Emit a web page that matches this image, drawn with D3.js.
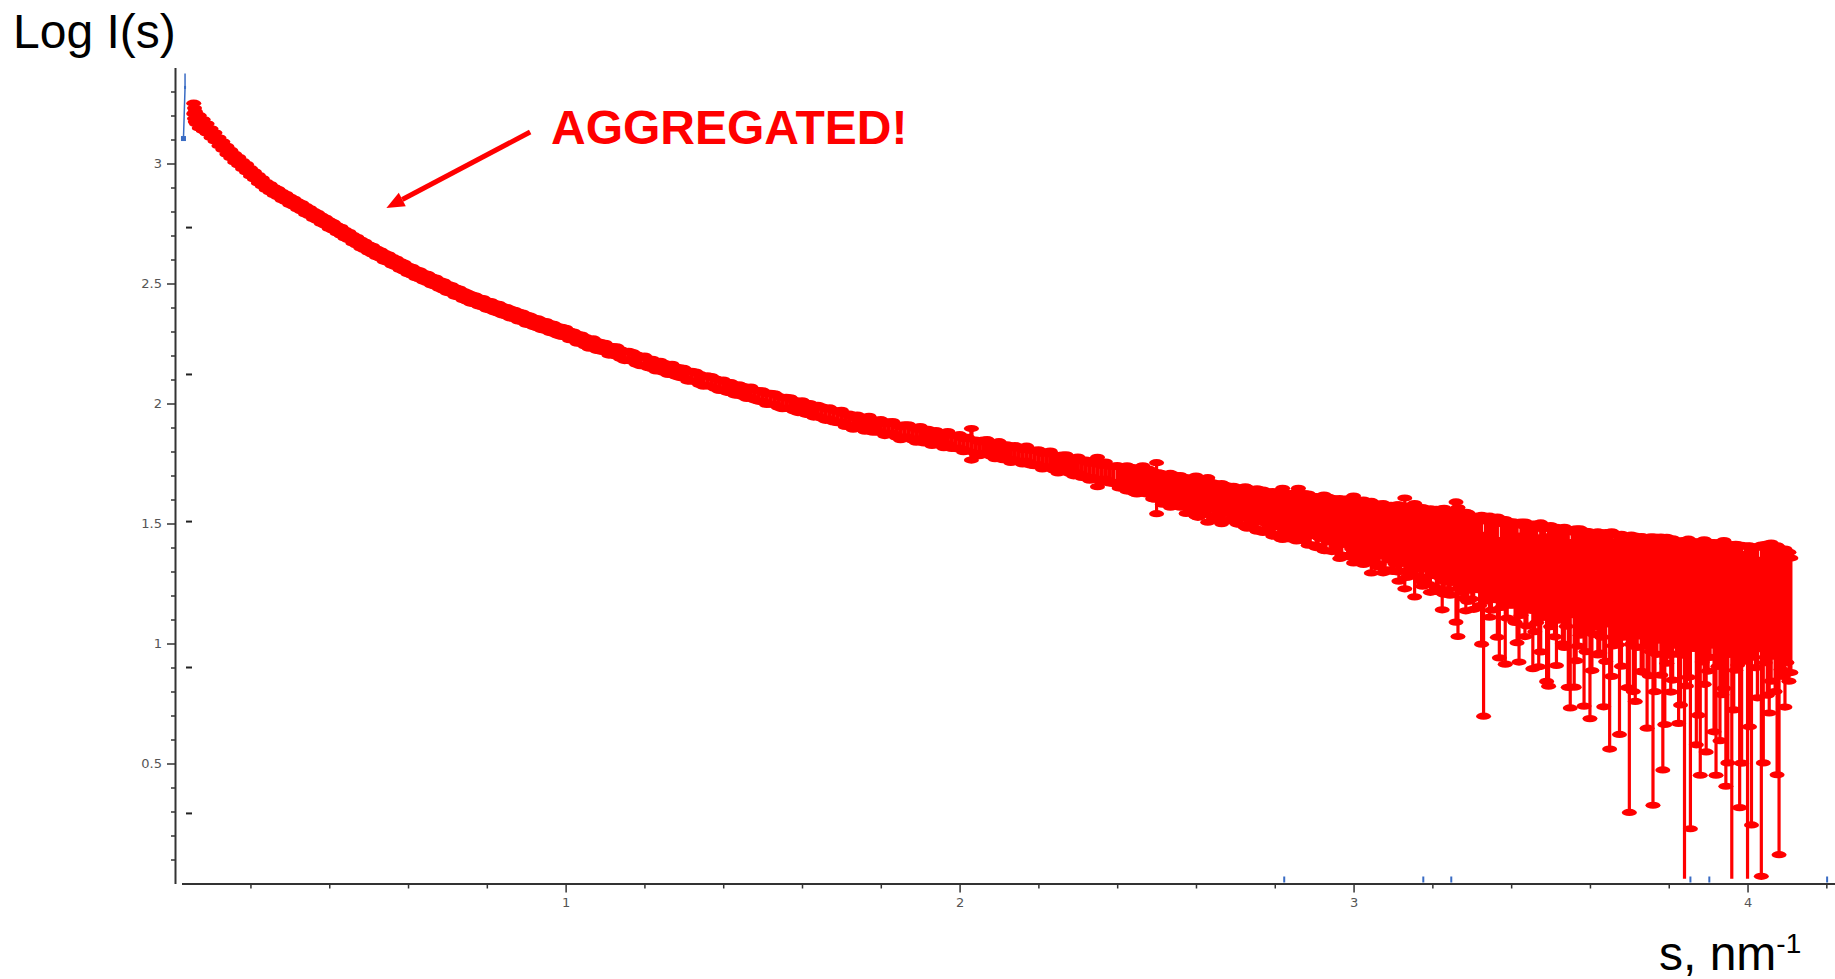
<!DOCTYPE html>
<html>
<head>
<meta charset="utf-8">
<script src="https://cdn.jsdelivr.net/npm/d3@7"></script>
<style>
  html, body { margin: 0; padding: 0; background: #ffffff; }
  svg { display: block; }
</style>
</head>
<body>
<svg id="chart" width="1835" height="979"></svg>
<script>
// ---- Scattering curve, s < 1 nm^-1 ----
const sLow = [
  0.056,0.058,0.060,0.063,
  0.07,0.08,0.09,0.10,0.11,0.12,0.13,0.14,0.15,0.16,
  0.17,0.18,0.19,0.20,0.21,0.22,0.23,0.24,0.25,0.26,
  0.27,0.28,0.29,0.30,0.31,0.32,0.33,0.34,0.35,0.36,
  0.37,0.38,0.39,0.40,0.41,0.42,0.43,0.44,0.45,0.46,
  0.47,0.48,0.49,0.50,0.51,0.52,0.53,0.54,0.55,0.56,
  0.57,0.58,0.59,0.60,0.61,0.62,0.63,0.64,0.65,0.66,
  0.67,0.68,0.69,0.70,0.71,0.72,0.73,0.74,0.75,0.76,
  0.77,0.78,0.79,0.80,0.81,0.82,0.83,0.84,0.85,0.86,
  0.87,0.88,0.89,0.90,0.91,0.92,0.93,0.94,0.95,0.96,
  0.97,0.98,0.99
];
const logILow = [
  3.230,3.210,3.196,3.186,
  3.175,3.161,3.146,3.127,3.111,3.091,3.075,3.056,3.040,3.023,
  3.010,2.994,2.981,2.964,2.951,2.935,2.922,2.907,2.897,2.885,
  2.877,2.865,2.857,2.845,2.837,2.826,2.818,2.806,2.798,2.786,
  2.778,2.766,2.758,2.746,2.738,2.726,2.718,2.706,2.698,2.685,
  2.677,2.665,2.657,2.646,2.639,2.628,2.621,2.610,2.604,2.593,
  2.586,2.575,2.568,2.557,2.551,2.541,2.536,2.526,2.521,2.511,
  2.506,2.496,2.490,2.480,2.475,2.465,2.460,2.450,2.444,2.436,
  2.432,2.424,2.420,2.411,2.407,2.399,2.395,2.387,2.383,2.375,
  2.371,2.363,2.359,2.350,2.346,2.338,2.334,2.326,2.323,2.315,
  2.311,2.303,2.299
];
// relative error sigma / I
const relErrLow = [
  0.050,0.050,0.050,0.045,
  0.060,0.052,0.045,0.041,0.039,0.038,0.037,0.038,0.036,0.037,
  0.037,0.036,0.037,0.036,0.035,0.036,0.035,0.035,0.036,0.034,
  0.035,0.035,0.034,0.036,0.034,0.035,0.035,0.036,0.034,0.036,
  0.035,0.036,0.035,0.037,0.036,0.035,0.037,0.036,0.036,0.037,
  0.036,0.037,0.037,0.036,0.038,0.037,0.036,0.038,0.037,0.038,
  0.037,0.038,0.039,0.037,0.038,0.039,0.038,0.037,0.039,0.038,
  0.039,0.038,0.040,0.039,0.038,0.040,0.039,0.040,0.039,0.041,
  0.040,0.039,0.041,0.040,0.041,0.040,0.042,0.041,0.040,0.042,
  0.041,0.042,0.041,0.043,0.042,0.041,0.043,0.042,0.043,0.042,
  0.043,0.042,0.044
];

// ---- Scattering curve, 1 <= s < 2.4 nm^-1 ----
const sMid = [
  1.00,1.01,1.02,1.03,1.04,1.05,1.06,1.07,1.08,1.09,
  1.10,1.11,1.12,1.13,1.14,1.15,1.16,1.17,1.18,1.19,
  1.20,1.21,1.22,1.23,1.24,1.25,1.26,1.27,1.28,1.29,
  1.30,1.31,1.32,1.33,1.34,1.35,1.36,1.37,1.38,1.39,
  1.40,1.41,1.42,1.43,1.44,1.45,1.46,1.47,1.48,1.49,
  1.50,1.51,1.52,1.53,1.54,1.55,1.56,1.57,1.58,1.59,
  1.60,1.61,1.62,1.63,1.64,1.65,1.66,1.67,1.68,1.69,
  1.70,1.71,1.72,1.73,1.74,1.75,1.76,1.77,1.78,1.79,
  1.80,1.81,1.82,1.83,1.84,1.85,1.86,1.87,1.88,1.89,
  1.90,1.91,1.92,1.93,1.94,1.95,1.96,1.97,1.98,1.99,
  2.00,2.01,2.02,2.03,2.04,2.05,2.06,2.07,2.08,2.09,
  2.10,2.11,2.12,2.13,2.14,2.15,2.16,2.17,2.18,2.19,
  2.20,2.21,2.22,2.23,2.24,2.25,2.26,2.27,2.28,2.29,
  2.30,2.31,2.32,2.33,2.34,2.35,2.36,2.37,2.38,2.39
];
const logIMid = [
  2.296,2.284,2.281,2.270,2.268,2.258,2.249,2.252,2.240,2.236,
  2.233,2.221,2.220,2.217,2.206,2.198,2.199,2.194,2.184,2.177,
  2.179,2.168,2.165,2.155,2.156,2.149,2.141,2.144,2.133,2.129,
  2.127,2.114,2.114,2.112,2.101,2.093,2.095,2.092,2.083,2.076,
  2.078,2.068,2.066,2.056,2.057,2.051,2.043,2.047,2.036,2.032,
  2.031,2.019,2.020,2.019,2.008,2.001,2.004,2.001,1.992,1.986,
  1.989,1.979,1.977,1.968,1.970,1.963,1.955,1.959,1.948,1.944,
  1.948,1.930,1.933,1.918,1.927,1.920,1.910,1.923,1.907,1.906,
  1.908,1.892,1.898,1.901,1.886,1.877,1.887,1.886,1.875,1.867,
  1.879,1.863,1.866,1.852,1.861,1.854,1.845,1.858,1.841,1.840,
  1.843,1.827,1.832,1.835,1.821,1.812,1.821,1.821,1.810,1.801,
  1.813,1.797,1.800,1.786,1.796,1.789,1.779,1.792,1.775,1.774,
  1.777,1.761,1.767,1.770,1.755,1.745,1.754,1.754,1.742,1.734,
  1.745,1.728,1.732,1.717,1.726,1.719,1.709,1.722,1.705,1.704
];
const relErrMid = [
  0.040,0.041,0.039,0.042,0.040,0.041,0.042,0.040,0.043,0.041,
  0.042,0.043,0.041,0.044,0.042,0.043,0.044,0.042,0.045,0.043,
  0.044,0.043,0.045,0.044,0.046,0.044,0.045,0.046,0.044,0.047,
  0.045,0.046,0.047,0.045,0.048,0.046,0.047,0.048,0.046,0.049,
  0.047,0.048,0.049,0.047,0.050,0.048,0.049,0.050,0.048,0.051,
  0.050,0.051,0.052,0.050,0.053,0.051,0.052,0.054,0.051,0.053,
  0.052,0.054,0.053,0.055,0.052,0.054,0.056,0.053,0.055,0.054,
  0.055,0.057,0.054,0.056,0.058,0.055,0.057,0.056,0.059,0.056,
  0.058,0.057,0.060,0.056,0.059,0.061,0.058,0.060,0.059,0.062,
  0.059,0.061,0.063,0.060,0.062,0.061,0.064,0.060,0.063,0.062,
  0.064,0.062,0.065,0.150,0.063,0.066,0.064,0.067,0.065,0.068,
  0.066,0.069,0.067,0.070,0.068,0.071,0.069,0.072,0.070,0.073,
  0.071,0.074,0.072,0.075,0.073,0.076,0.074,0.077,0.075,0.078,
  0.076,0.079,0.077,0.080,0.078,0.140,0.079,0.082,0.080,0.083
];

// ---- Noisy tail s >= 2.4 nm^-1, points on the 0.01 grid ----
const sHigh = [
  2.40,2.41,2.42,2.43,2.44,2.45,2.46,2.47,2.48,2.49,
  2.50,2.51,2.52,2.53,2.54,2.55,2.56,2.57,2.58,2.59,
  2.60,2.61,2.62,2.63,2.64,2.65,2.66,2.67,2.68,2.69,
  2.70,2.71,2.72,2.73,2.74,2.75,2.76,2.77,2.78,2.79,
  2.80,2.81,2.82,2.83,2.84,2.85,2.86,2.87,2.88,2.89,
  2.90,2.91,2.92,2.93,2.94,2.95,2.96,2.97,2.98,2.99,
  3.00,3.01,3.02,3.03,3.04,3.05,3.06,3.07,3.08,3.09,
  3.10,3.11,3.12,3.13,3.14,3.15,3.16,3.17,3.18,3.19,
  3.20,3.21,3.22,3.23,3.24,3.25,3.26,3.27,3.28,3.29,
  3.30,3.31,3.32,3.33,3.34,3.35,3.36,3.37,3.38,3.39,
  3.40,3.41,3.42,3.43,3.44,3.45,3.46,3.47,3.48,3.49,
  3.50,3.51,3.52,3.53,3.54,3.55,3.56,3.57,3.58,3.59,
  3.60,3.61,3.62,3.63,3.64,3.65,3.66,3.67,3.68,3.69,
  3.70,3.71,3.72,3.73,3.74,3.75,3.76,3.77,3.78,3.79,
  3.80,3.81,3.82,3.83,3.84,3.85,3.86,3.87,3.88,3.89,
  3.90,3.91,3.92,3.93,3.94,3.95,3.96,3.97,3.98,3.99,
  4.00,4.01,4.02,4.03,4.04,4.05,4.06,4.07,4.08,4.09,
  4.10,4.11
];
const logIHigh = [
  1.708,1.694,1.703,1.686,1.696,1.679,1.688,1.675,1.681,1.664,
  1.660,1.668,1.650,1.662,1.644,1.653,1.639,1.648,1.628,1.636,
  1.622,1.632,1.610,1.608,1.618,1.598,1.611,1.593,1.603,1.586,
  1.594,1.578,1.588,1.572,1.583,1.566,1.577,1.560,1.569,1.553,
  1.564,1.548,1.553,1.549,1.538,1.548,1.560,1.532,1.542,1.526,
  1.535,1.519,1.530,1.512,1.523,1.507,1.518,1.499,1.510,1.493,
  1.497,1.488,1.498,1.479,1.483,1.476,1.469,1.480,1.462,1.473,
  1.455,1.460,1.449,1.457,1.442,1.453,1.443,1.435,1.446,1.427,
  1.436,1.425,1.430,1.420,1.412,1.416,1.408,1.404,1.395,1.397,
  1.386,1.398,1.380,1.220,1.381,1.368,1.370,1.250,1.365,1.350,
  1.362,1.340,1.260,1.351,1.333,1.346,1.325,1.250,1.331,1.240,
  1.330,1.312,1.326,1.300,1.316,1.200,1.250,1.290,1.306,1.285,
  1.210,1.298,1.280,1.294,1.272,1.180,1.250,1.279,1.262,1.260,
  1.150,1.220,1.268,1.250,1.265,1.243,1.150,1.256,1.245,1.200,
  1.252,1.235,1.248,1.200,1.120,1.236,1.240,1.180,1.150,1.228,
  1.232,1.230,1.150,1.180,1.222,1.160,1.110,1.226,1.140,1.210,
  1.100,1.130,1.218,1.200,1.160,1.205,1.220,1.198,1.120,1.200,
  1.205,1.180
];
const relErrHigh = [
  0.08,0.10,0.07,0.11,0.09,0.12,0.08,0.10,0.11,0.13,
  0.24,0.10,0.13,0.09,0.14,0.11,0.15,0.10,0.13,0.12,
  0.19,0.11,0.15,0.21,0.12,0.16,0.12,0.17,0.13,0.16,
  0.13,0.17,0.14,0.19,0.14,0.18,0.15,0.20,0.15,0.19,
  0.16,0.20,0.24,0.17,0.21,0.16,0.22,0.21,0.18,0.23,
  0.18,0.23,0.19,0.25,0.20,0.24,0.21,0.26,0.20,0.25,
  0.31,0.24,0.21,0.27,0.28,0.24,0.29,0.23,0.30,0.25,
  0.30,0.31,0.29,0.41,0.31,0.26,0.31,0.33,0.27,0.34,
  0.29,0.36,0.30,0.39,0.35,0.31,0.52,0.32,0.38,0.40,
  0.37,0.32,0.40,0.70,0.34,0.41,0.35,0.51,0.36,0.43,
  0.36,0.44,0.54,0.38,0.45,0.38,0.47,0.55,0.40,0.60,
  0.45,0.48,0.41,0.50,0.43,0.66,0.63,0.50,0.44,0.52,
  0.70,0.45,0.53,0.46,0.55,0.76,0.45,0.48,0.56,0.40,
  0.86,0.62,0.48,0.57,0.47,0.58,0.85,0.50,0.58,0.71,
  0.50,0.59,0.49,0.65,1.00,0.58,0.45,0.75,0.80,0.60,
  0.55,0.42,0.80,0.74,0.61,0.78,1.00,0.54,0.85,0.45,
  1.02,0.87,0.52,0.40,0.78,0.62,0.58,0.60,0.90,0.54,
  0.48,0.50
];

// ---- Noisy tail, intermediate points (half-step between the grid above) ----
const sHighMid = [
  2.405,2.415,2.425,2.435,2.445,2.455,2.465,2.475,2.485,2.495,
  2.505,2.515,2.525,2.535,2.545,2.555,2.565,2.575,2.585,2.595,
  2.605,2.615,2.625,2.635,2.645,2.655,2.665,2.675,2.685,2.695,
  2.705,2.715,2.725,2.735,2.745,2.755,2.765,2.775,2.785,2.795,
  2.805,2.815,2.825,2.835,2.845,2.855,2.865,2.875,2.885,2.895,
  2.905,2.915,2.925,2.935,2.945,2.955,2.965,2.975,2.985,2.995,
  3.005,3.015,3.025,3.035,3.045,3.055,3.065,3.075,3.085,3.095,
  3.105,3.115,3.125,3.135,3.145,3.155,3.165,3.175,3.185,3.195,
  3.205,3.215,3.225,3.235,3.245,3.255,3.265,3.275,3.285,3.295,
  3.305,3.315,3.325,3.335,3.345,3.355,3.365,3.375,3.385,3.395,
  3.405,3.415,3.425,3.435,3.445,3.455,3.465,3.475,3.485,3.495,
  3.505,3.515,3.525,3.535,3.545,3.555,3.565,3.575,3.585,3.595,
  3.605,3.615,3.625,3.635,3.645,3.655,3.665,3.675,3.685,3.695,
  3.705,3.715,3.725,3.735,3.745,3.755,3.765,3.775,3.785,3.795,
  3.805,3.815,3.825,3.835,3.845,3.855,3.865,3.875,3.885,3.895,
  3.905,3.915,3.925,3.935,3.945,3.955,3.965,3.975,3.985,3.995,
  4.005,4.015,4.025,4.035,4.045,4.055,4.065,4.075,4.085,4.095,
  4.105
];
const logIHighMid = [
  1.694,1.705,1.691,1.694,1.677,1.684,1.687,1.669,1.671,1.657,
  1.666,1.646,1.656,1.644,1.652,1.633,1.637,1.623,1.634,1.621,
  1.612,1.622,1.609,1.620,1.600,1.604,1.591,1.603,1.590,1.594,
  1.579,1.591,1.577,1.566,1.577,1.565,1.575,1.557,1.563,1.550,
  1.563,1.545,1.555,1.544,1.556,1.541,1.530,1.542,1.529,1.539,
  1.519,1.530,1.518,1.527,1.508,1.514,1.497,1.511,1.499,1.508,
  1.488,1.502,1.484,1.488,1.468,1.486,1.474,1.462,1.480,1.462,
  1.469,1.447,1.465,1.449,1.452,1.431,1.452,1.433,1.439,1.421,
  1.438,1.416,1.400,1.423,1.409,1.421,1.376,1.407,1.388,1.403,
  1.379,1.398,1.344,1.384,1.369,1.388,1.345,1.372,1.312,1.367,
  1.367,1.322,1.354,1.330,1.359,1.293,1.339,1.312,1.339,1.266,
  1.333,1.285,1.332,1.302,1.261,1.328,1.285,1.310,1.234,1.308,
  1.264,1.306,1.279,1.231,1.304,1.261,1.289,1.206,1.286,1.236,
  1.281,1.227,1.283,1.247,1.200,1.268,1.231,1.274,1.172,1.255,
  1.218,1.261,1.190,1.253,1.221,1.149,1.255,1.196,1.242,1.168,
  1.243,1.185,1.233,1.207,1.150,1.239,1.192,1.229,1.159,1.228,
  1.176,1.227,1.194,1.127,1.221,1.179,1.223,1.152,1.210,1.179,
  1.190
];
const relErrHighMid = [
  0.10,0.07,0.12,0.09,0.11,0.08,0.13,0.10,0.09,0.12,
  0.11,0.14,0.10,0.16,0.12,0.13,0.11,0.17,0.12,0.14,
  0.18,0.12,0.15,0.13,0.17,0.14,0.19,0.13,0.16,0.15,
  0.17,0.14,0.19,0.16,0.15,0.20,0.14,0.18,0.17,0.21,
  0.16,0.22,0.18,0.20,0.17,0.23,0.19,0.21,0.24,0.18,
  0.24,0.19,0.26,0.21,0.25,0.22,0.28,0.20,0.27,0.23,
  0.26,0.23,0.30,0.25,0.33,0.22,0.28,0.32,0.24,0.30,
  0.27,0.35,0.26,0.33,0.30,0.42,0.28,0.36,0.31,0.38,
  0.30,0.37,0.45,0.32,0.38,0.30,0.55,0.36,0.44,0.34,
  0.42,0.33,0.55,0.38,0.45,0.35,0.52,0.40,0.60,0.38,
  0.38,0.52,0.42,0.50,0.36,0.60,0.44,0.55,0.41,0.64,
  0.42,0.58,0.40,0.52,0.64,0.38,0.56,0.47,0.68,0.44,
  0.58,0.42,0.52,0.68,0.40,0.60,0.47,0.74,0.45,0.62,
  0.48,0.66,0.44,0.57,0.72,0.50,0.63,0.45,0.80,0.54,
  0.62,0.46,0.70,0.50,0.60,0.88,0.47,0.68,0.52,0.76,
  0.50,0.72,0.53,0.62,0.82,0.48,0.66,0.52,0.78,0.50,
  0.70,0.48,0.62,0.92,0.50,0.66,0.47,0.80,0.52,0.64,
  0.55
];

// ---- Second (blue) trace at the very start of the curve ----
const blueS = [0.030, 0.032, 0.034, 0.034];
const blueLogI = [3.104, 3.210, 3.317, 3.375];

// ---- Blue rug marks on the s axis ----
const rugS = [2.824, 3.177, 3.248, 3.855, 3.903, 4.202];

// ---- Short black level marks next to the Log I axis ----
const levelMarks = [2.733, 2.121, 1.508, 0.900, 0.292];

// ---- Axis ticks ----
const xMajorTicks = [1, 2, 3, 4];
const xTickLabels = ["1", "2", "3", "4"];
const xMinorTicks = [0.2,0.4,0.6,0.8,1.2,1.4,1.6,1.8,2.2,2.4,2.6,2.8,3.2,3.4,3.6,3.8,4.2];
const yMajorTicks = [0.5, 1, 1.5, 2, 2.5, 3];
const yTickLabels = ["0.5", "1", "1.5", "2", "2.5", "3"];
const yMinorTicks = [0.1,0.2,0.3,0.4,0.6,0.7,0.8,0.9,1.1,1.2,1.3,1.4,1.6,1.7,1.8,1.9,
                     2.1,2.2,2.3,2.4,2.6,2.7,2.8,2.9,3.1,3.2,3.3];

// ---- Annotation ----
const annotationText = "AGGREGATED!";
const arrowFrom = { s: 0.91, v: 3.131 };
const arrowTo = { s: 0.545, v: 2.815 };

// ======================================================================
const svg = d3.select("#chart");
const FONT = "'Liberation Sans', Arial, Helvetica, sans-serif";
const RED = "#ff0000";
const BLUE = "#3a6cc4";
const AXIS = "#333333";

const x = d3.scaleLinear().domain([0.025, 4.222]).range([181.5, 1835]);
const y = d3.scaleLinear().domain([0, 3.4]).range([883.5, 67.5]);
const axisX0 = 175;      // horizontal position of the Log I axis
const axisY0 = 883.5;    // vertical position of the s axis

// ---- axes ----
const yAxis = svg.append("g").attr("transform", `translate(${axisX0},0)`);
yAxis.call(d3.axisLeft(y).tickValues(yMajorTicks)
  .tickFormat((d, i) => yTickLabels[i]).tickSize(8).tickSizeOuter(0).tickPadding(5));
const yMinor = svg.append("g").attr("transform", `translate(${axisX0},0)`);
yMinor.call(d3.axisLeft(y).tickValues(yMinorTicks).tickFormat("").tickSize(4).tickSizeOuter(0));
yMinor.select(".domain").remove();

const xAxis = svg.append("g").attr("transform", `translate(0,${axisY0})`);
xAxis.call(d3.axisBottom(x).tickValues(xMajorTicks)
  .tickFormat((d, i) => xTickLabels[i]).tickSize(9).tickSizeOuter(0).tickPadding(5));
const xMinor = svg.append("g").attr("transform", `translate(0,${axisY0})`);
xMinor.call(d3.axisBottom(x).tickValues(xMinorTicks).tickFormat("").tickSize(5).tickSizeOuter(0));
xMinor.select(".domain").remove();

svg.selectAll(".domain").attr("stroke", AXIS).attr("stroke-width", 2);
svg.selectAll(".tick line").attr("stroke", AXIS).attr("stroke-width", 1.5);
svg.selectAll(".tick text")
  .attr("fill", "#555555")
  .attr("font-family", "'DejaVu Sans', Verdana, sans-serif")
  .attr("font-size", 13);

// ---- level marks beside the Log I axis ----
svg.append("g").selectAll("rect").data(levelMarks).join("rect")
  .attr("x", axisX0 + 11).attr("y", d => y(d) - 1)
  .attr("width", 6).attr("height", 2).attr("fill", "#222");

// ---- blue rug on the s axis ----
svg.append("g").selectAll("line").data(rugS).join("line")
  .attr("x1", d => x(d)).attr("x2", d => x(d))
  .attr("y1", axisY0 - 1).attr("y2", axisY0 - 7)
  .attr("stroke", BLUE).attr("stroke-width", 2);

// ---- scattering curve with error bars (log of I - sigma .. I + sigma) ----
function buildPoints(sArr, logArr, errArr) {
  const n = Math.min(sArr.length, logArr.length, errArr.length);
  const out = [];
  for (let i = 0; i < n; i++) {
    const c = logArr[i], r = errArr[i];
    const hi = c + Math.log10(1 + r);
    const lo = r < 1 ? c + Math.log10(1 - r) : null;
    out.push({ s: sArr[i], c, hi, lo });
  }
  return out;
}
const points = buildPoints(sLow, logILow, relErrLow)
  .concat(buildPoints(sMid, logIMid, relErrMid))
  .concat(buildPoints(sHigh, logIHigh, relErrHigh))
  .concat(buildPoints(sHighMid, logIHighMid, relErrHighMid))
  .sort((a, b) => a.s - b.s);

const floorV = 0.02;
const curve = svg.append("g");
curve.selectAll("line").data(points).join("line")
  .attr("x1", d => x(d.s)).attr("x2", d => x(d.s))
  .attr("y1", d => y(d.hi))
  .attr("y2", d => (d.lo === null || d.lo < floorV) ? y(floorV) : y(d.lo))
  .attr("stroke", RED)
  .attr("stroke-width", d => d.s < 2.4 ? 4.3 : 3.2);
const caps = [];
points.forEach(p => {
  caps.push({ s: p.s, v: p.hi });
  if (p.lo !== null && p.lo >= floorV) caps.push({ s: p.s, v: p.lo });
});
curve.selectAll("ellipse").data(caps).join("ellipse")
  .attr("cx", d => x(d.s)).attr("cy", d => y(d.v))
  .attr("rx", 7.5).attr("ry", 3.6).attr("fill", RED);

// ---- blue trace ----
const blueLine = d3.line().x(d => x(d[0])).y(d => y(d[1]));
const bluePts = blueS.map((s, i) => [s, blueLogI[i]]);
svg.append("path").attr("d", blueLine(bluePts))
  .attr("fill", "none").attr("stroke", BLUE).attr("stroke-width", 1.5);
svg.append("rect")
  .attr("x", x(bluePts[0][0]) - 2.5).attr("y", y(bluePts[0][1]) - 2.5)
  .attr("width", 5).attr("height", 5).attr("fill", BLUE);
svg.append("rect")
  .attr("x", x(bluePts[2][0]) - 1).attr("y", y(bluePts[2][1]) - 1.5)
  .attr("width", 2).attr("height", 3).attr("fill", BLUE);

// ---- axis titles ----
svg.append("text").attr("x", 13).attr("y", 48)
  .attr("font-family", FONT).attr("font-size", 48).attr("fill", "#000")
  .text("Log I(s)");
const sTitle = svg.append("text").attr("x", 1659).attr("y", 970)
  .attr("font-family", FONT).attr("font-size", 48).attr("fill", "#000");
sTitle.append("tspan").text("s, nm");
sTitle.append("tspan").attr("font-size", 28).attr("dy", -17).text("-1");

// ---- annotation arrow and label ----
const ax0 = x(arrowFrom.s), ay0 = y(arrowFrom.v);
const ax1 = x(arrowTo.s), ay1 = y(arrowTo.v);
const ang = Math.atan2(ay1 - ay0, ax1 - ax0);
const headLen = 18, headHalf = 7.5;
const bx = ax1 - headLen * Math.cos(ang), by = ay1 - headLen * Math.sin(ang);
svg.append("line")
  .attr("x1", ax0).attr("y1", ay0).attr("x2", bx).attr("y2", by)
  .attr("stroke", RED).attr("stroke-width", 5);
svg.append("polygon")
  .attr("points", [
    [ax1, ay1],
    [bx + headHalf * Math.sin(ang), by - headHalf * Math.cos(ang)],
    [bx - headHalf * Math.sin(ang), by + headHalf * Math.cos(ang)]
  ].map(p => p.join(",")).join(" "))
  .attr("fill", RED);
svg.append("text").attr("x", 551).attr("y", 144)
  .attr("font-family", FONT).attr("font-size", 48).attr("font-weight", "bold")
  .attr("fill", RED).text(annotationText);
</script>
</body>
</html>
